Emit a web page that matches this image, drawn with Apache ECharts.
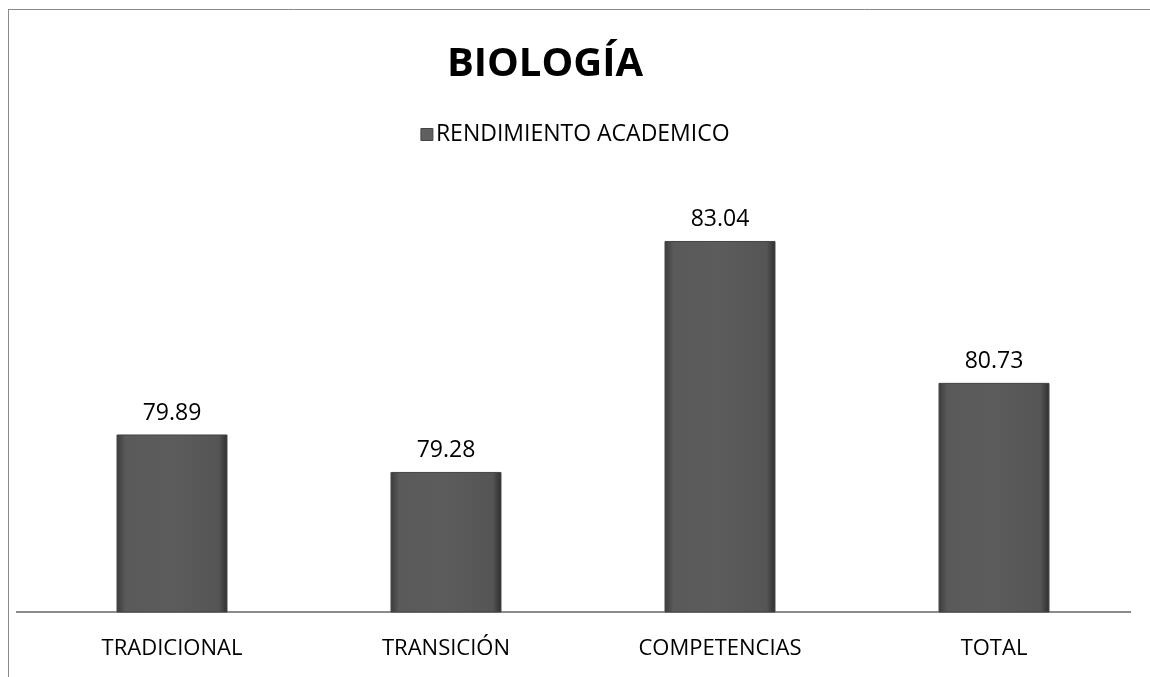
<!DOCTYPE html>
<html>
<head>
<meta charset="utf-8">
<script src="https://cdn.jsdelivr.net/npm/echarts@6/dist/echarts.min.js"></script>
<style>
  html, body { margin: 0; padding: 0; background: #fff; }
  #chart { width: 1150px; height: 677px; }
</style>
</head>
<body>
<div id="chart"></div>
<script>
var categories = ['TRADICIONAL', 'TRANSICIÓN', 'COMPETENCIAS', 'TOTAL'];
var rendimiento = [79.89, 79.28, 83.04, 80.73];
var seriesName = 'RENDIMIENTO ACADEMICO';
var chartTitle = 'BIOLOGÍA';

var fontFamily = '"Open Sans", "Noto Sans", sans-serif';

// degradado para simular el biselado de Excel
var barFill = new echarts.graphic.LinearGradient(0, 0, 1, 0, [
    { offset: 0, color: '#3a3a3a' },
    { offset: 0.08, color: '#5a5a5a' },
    { offset: 0.5, color: '#5c5c5c' },
    { offset: 0.92, color: '#555555' },
    { offset: 1, color: '#2e2e2e' }
]);

var chart = echarts.init(document.getElementById('chart'));
var option = {
    backgroundColor: '#ffffff',
    animation: false,
    title: {
        text: chartTitle,
        left: 540,
        textAlign: 'center',
        top: 40,
        textStyle: { fontFamily: fontFamily, fontSize: 40, fontWeight: 'bold', color: '#000' }
    },
    legend: {
        data: [{ name: seriesName, icon: 'rect' }],
        top: 118,
        left: 'center',
        itemWidth: 12,
        itemHeight: 12,
        itemGap: 4,
        textStyle: { fontFamily: fontFamily, fontSize: 23, color: '#000', padding: [0, 0, 0, -2] },
        itemStyle: { color: '#606060', borderColor: '#444', borderWidth: 1 }
    },
    graphic: [
        { type: 'line', shape: { x1: 8.5, y1: 9, x2: 8.5, y2: 677 }, style: { stroke: '#8a8a8a', lineWidth: 1 } },
        { type: 'line', shape: { x1: 8, y1: 9.5, x2: 1150, y2: 9.5 }, style: { stroke: '#8a8a8a', lineWidth: 1 } },
        { type: 'line', shape: { x1: 16, y1: 612, x2: 1131, y2: 612 }, style: { stroke: '#8c8c8c', lineWidth: 2 } }
    ],
    grid: { left: 35, right: 19, top: 182, bottom: 65 },
    xAxis: {
        type: 'category',
        data: categories,
        axisLine: { show: false },
        axisTick: { show: false },
        axisLabel: { fontFamily: fontFamily, fontSize: 22, color: '#000', margin: 26 }
    },
    yAxis: {
        type: 'value',
        min: 77,
        max: 84,
        show: false,
        splitLine: { show: false }
    },
    series: [{
        name: seriesName,
        type: 'bar',
        data: rendimiento,
        barWidth: '40.5%',
        itemStyle: { color: barFill, borderColor: '#444', borderWidth: 1 },
        label: {
            show: true,
            position: 'top',
            distance: 10,
            fontFamily: fontFamily,
            fontSize: 23,
            color: '#000',
            formatter: function (p) { return p.value.toFixed(2); }
        }
    }]
};
chart.setOption(option);
</script>
</body>
</html>
